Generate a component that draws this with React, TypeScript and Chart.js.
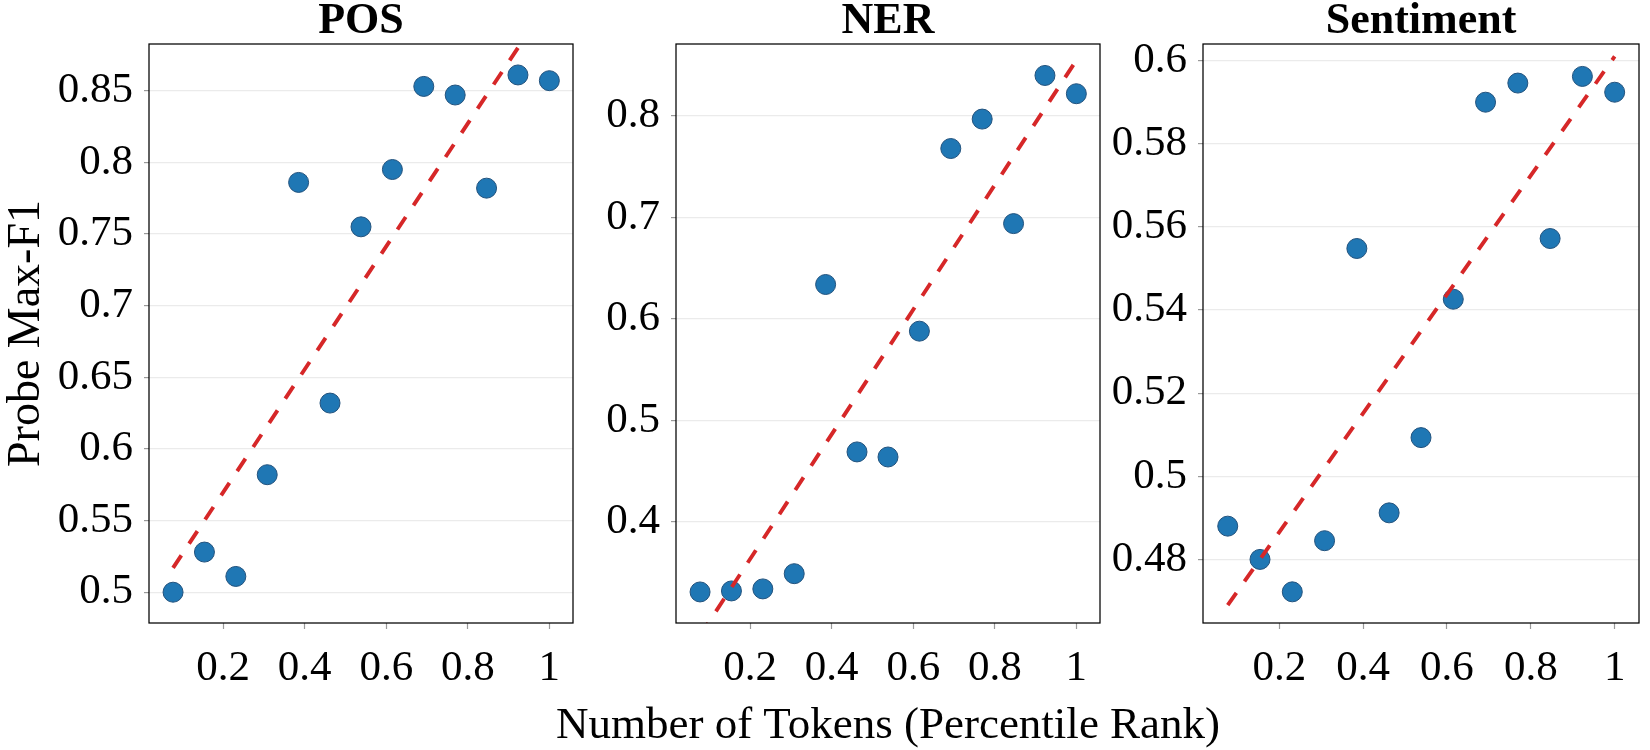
import React, { useEffect, useRef } from "react";
import { Chart, registerables } from "chart.js";

Chart.register(...registerables);

// ---------------- data ----------------
const X_RANK = [0.077, 0.154, 0.231, 0.308, 0.385, 0.462, 0.538, 0.615, 0.692, 0.769, 0.846, 0.923, 1.0];
const POS_F1 = [0.5, 0.528, 0.511, 0.582, 0.786, 0.632, 0.755, 0.795, 0.853, 0.847, 0.782, 0.861, 0.857];
const NER_F1 = [0.331, 0.332, 0.334, 0.349, 0.634, 0.469, 0.464, 0.588, 0.768, 0.797, 0.694, 0.84, 0.822];
const SENT_F1 = [0.488, 0.48, 0.4722, 0.4845, 0.5548, 0.4912, 0.5093, 0.5426, 0.59, 0.5946, 0.5572, 0.5962, 0.5924];

const TREND_X = [0.077, 1.0];
const POS_TREND = [0.517, 0.913];
const NER_TREND = [0.288, 0.855];
const SENT_TREND = [0.469, 0.601];

const X_TICKS = [0.2, 0.4, 0.6, 0.8, 1];
const POS_Y_TICKS = [0.5, 0.55, 0.6, 0.65, 0.7, 0.75, 0.8, 0.85];
const NER_Y_TICKS = [0.4, 0.5, 0.6, 0.7, 0.8];
const SENT_Y_TICKS = [0.48, 0.5, 0.52, 0.54, 0.56, 0.58, 0.6];

const PANEL_TITLES = ["POS", "NER", "Sentiment"];
const Y_TITLE = "Probe Max-F1";
const X_TITLE = "Number of Tokens (Percentile Rank)";

// ---------------- style / layout ----------------
const FONT = '"Liberation Serif", "Times New Roman", Times, serif';
const H = 750;
const TOP = 44;
const X_AXIS_H = 127;

type Panel = {
  title: string;
  values: number[];
  trend: number[];
  yTicks: number[];
  yMin: number;
  yMax: number;
  left: number;
  axisWidth: number;
  plotWidth: number;
  padRight: number;
  showYTitle: boolean;
  showXTitle: boolean;
};

const PANELS: Panel[] = [
  { title: PANEL_TITLES[0], values: POS_F1, trend: POS_TREND, yTicks: POS_Y_TICKS, yMin: 0.4785, yMax: 0.8826,
    left: 0, axisWidth: 149, plotWidth: 424, padRight: 20, showYTitle: true, showXTitle: false },
  { title: PANEL_TITLES[1], values: NER_F1, trend: NER_TREND, yTicks: NER_Y_TICKS, yMin: 0.3004, yMax: 0.871,
    left: 546, axisWidth: 130, plotWidth: 424, padRight: 150, showYTitle: false, showXTitle: true },
  { title: PANEL_TITLES[2], values: SENT_F1, trend: SENT_TREND, yTicks: SENT_Y_TICKS, yMin: 0.4647, yMax: 0.604,
    left: 1073, axisWidth: 130, plotWidth: 436, padRight: 11, showYTitle: false, showXTitle: false },
];

const fmt = (v: number | string) => String(Math.round(Number(v) * 1000) / 1000);

function makePlugin(p: Panel) {
  return {
    id: "frameAndTitles",
    afterDraw(chart: any) {
      const { ctx, chartArea } = chart;
      const { left, top, right, bottom } = chartArea;
      ctx.save();
      ctx.strokeStyle = "#000";
      ctx.lineWidth = 1.25;
      ctx.strokeRect(left, top, right - left, bottom - top);
      ctx.fillStyle = "#000";
      ctx.textAlign = "center";
      ctx.textBaseline = "alphabetic";
      ctx.font = `bold 44px ${FONT}`;
      ctx.fillText(p.title, (left + right) / 2, 33);
      if (p.showXTitle) {
        ctx.font = `45px ${FONT}`;
        ctx.fillText(X_TITLE, (left + right) / 2, 738);
      }
      ctx.restore();
    },
  };
}

function makeConfig(p: Panel): any {
  return {
    type: "scatter",
    data: {
      datasets: [
        {
          label: "trend",
          data: TREND_X.map((x, i) => ({ x, y: p.trend[i] })),
          showLine: true,
          borderColor: "#d62728",
          backgroundColor: "#d62728",
          borderWidth: 3.9,
          borderDash: [15, 14],
          borderCapStyle: "butt",
          pointRadius: 0,
          pointHoverRadius: 0,
          fill: false,
          clip: 0,
          order: 0,
        },
        {
          label: p.title,
          data: X_RANK.map((x, i) => ({ x, y: p.values[i] })),
          backgroundColor: "#1f77b4",
          borderColor: "#22527d",
          borderWidth: 1,
          pointRadius: 10,
          pointHoverRadius: 10,
          order: 1,
        },
      ],
    },
    options: {
      responsive: false,
      maintainAspectRatio: false,
      animation: false,
      events: [],
      layout: { padding: { top: TOP, right: p.padRight, left: 0, bottom: 0 } },
      plugins: {
        legend: { display: false },
        tooltip: { enabled: false },
        title: { display: false },
      },
      scales: {
        x: {
          type: "linear",
          min: 0.018,
          max: 1.058,
          afterBuildTicks: (a: any) => {
            a.ticks = X_TICKS.map((v) => ({ value: v }));
          },
          afterFit: (a: any) => {
            a.height = X_AXIS_H;
          },
          grid: { drawOnChartArea: false, tickLength: 6, tickColor: "#999", tickWidth: 1.2 },
          border: { display: false },
          ticks: {
            font: { family: FONT, size: 43 },
            color: "#000",
            padding: 14,
            maxRotation: 0,
            autoSkip: false,
            callback: fmt,
          },
        },
        y: {
          type: "linear",
          min: p.yMin,
          max: p.yMax,
          afterBuildTicks: (a: any) => {
            a.ticks = p.yTicks.map((v) => ({ value: v }));
          },
          afterFit: (a: any) => {
            a.width = p.axisWidth;
          },
          grid: { color: "#ebebeb", lineWidth: 1.2, tickLength: 5, tickColor: "#999", tickWidth: 1.2 },
          border: { display: false },
          ticks: {
            font: { family: FONT, size: 43 },
            color: "#000",
            padding: 11,
            autoSkip: false,
            callback: fmt,
          },
          title: {
            display: p.showYTitle,
            text: Y_TITLE,
            color: "#000",
            font: { family: FONT, size: 46, lineHeight: 1 },
            padding: { top: 3.5, bottom: 0 },
          },
        },
      },
    },
    plugins: [makePlugin(p)],
  };
}

function PanelChart({ p }: { p: Panel }) {
  const ref = useRef<HTMLCanvasElement | null>(null);
  const width = p.axisWidth + p.plotWidth + p.padRight;
  useEffect(() => {
    if (!ref.current) return;
    const chart = new Chart(ref.current, makeConfig(p));
    return () => chart.destroy();
  }, [p]);
  return (
    <canvas
      ref={ref}
      width={width}
      height={H}
      style={{ position: "absolute", left: p.left, top: 0, width, height: H }}
    />
  );
}

export default function App() {
  return (
    <div style={{ position: "absolute", left: 0, top: 0, width: 1650, height: H, background: "#fff", overflow: "hidden" }}>
      {PANELS.map((p) => (
        <PanelChart key={p.title} p={p} />
      ))}
    </div>
  );
}
